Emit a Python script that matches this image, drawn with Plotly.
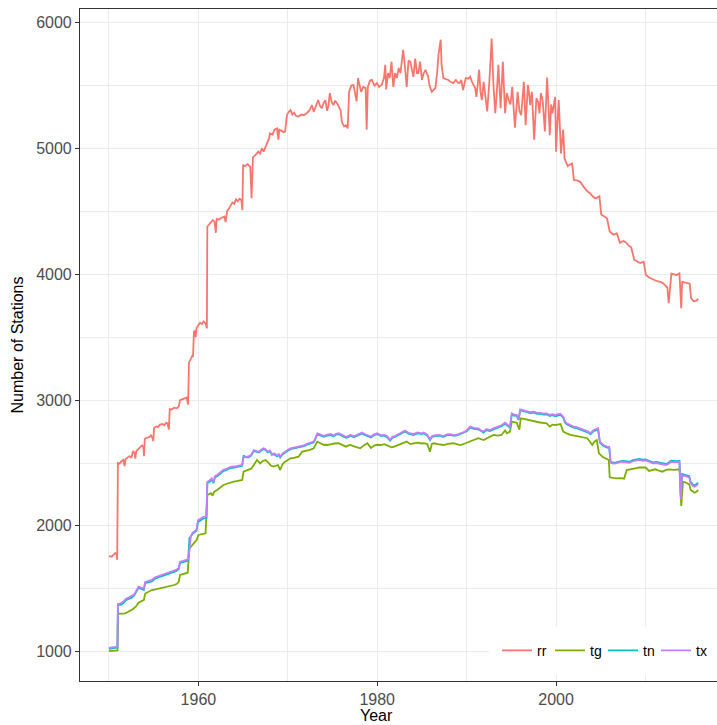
import plotly.graph_objects as go

# ---------------- data ----------------
rr_year = [1950.0, 1950.3, 1950.5, 1950.7, 1950.85, 1950.92, 1951.0, 1951.2, 1951.4, 1951.6, 1951.75, 1951.85,
           1952.1, 1952.3, 1952.5, 1952.7, 1952.85, 1952.95, 1953.05, 1953.3, 1953.5, 1953.7, 1953.85, 1953.92,
           1954.0, 1954.2, 1954.5, 1954.7, 1954.85, 1954.95, 1955.05, 1955.3, 1955.5, 1955.7, 1956.0, 1956.2,
           1956.4, 1956.55, 1956.7, 1956.8, 1957.0, 1957.3, 1957.6, 1957.8, 1957.95, 1958.2, 1958.5, 1958.7,
           1958.85, 1958.95, 1959.1, 1959.3, 1959.4, 1959.5, 1959.6, 1959.7, 1959.8, 1960.0, 1960.2, 1960.4,
           1960.6, 1960.8, 1960.95, 1961.0, 1961.2, 1961.4, 1961.6, 1961.8, 1961.95, 1962.05, 1962.3, 1962.6,
           1962.9, 1963.05, 1963.2, 1963.4, 1963.6, 1963.8, 1964.0, 1964.2, 1964.4, 1964.6, 1964.8, 1964.92,
           1965.0, 1965.2, 1965.5, 1965.8, 1965.95, 1966.1, 1966.4, 1966.7, 1966.9, 1967.1, 1967.3, 1967.5,
           1967.75, 1967.9, 1968.0, 1968.3, 1968.5, 1968.8, 1968.95, 1969.05, 1969.3, 1969.55, 1969.7, 1969.9,
           1970.1, 1970.3, 1970.5, 1970.7, 1970.9, 1971.2, 1971.5, 1971.8, 1972.1, 1972.4, 1972.7, 1972.9,
           1973.1, 1973.4, 1973.6, 1973.8, 1974.0, 1974.2, 1974.4, 1974.55, 1974.7, 1974.9, 1975.1, 1975.3,
           1975.5, 1975.7, 1975.9, 1976.05, 1976.3, 1976.5, 1976.7, 1976.85, 1977.1, 1977.35, 1977.5, 1977.7,
           1977.85, 1978.0, 1978.2, 1978.45, 1978.7, 1978.82, 1978.95, 1979.2, 1979.4, 1979.7, 1979.97, 1980.2,
           1980.5, 1980.75, 1980.9, 1981.0, 1981.2, 1981.4, 1981.6, 1981.8, 1982.0, 1982.2, 1982.4, 1982.6,
           1982.9, 1983.1, 1983.3, 1983.5, 1983.7, 1984.05, 1984.25, 1984.45, 1984.6, 1984.8, 1985.0, 1985.2,
           1985.4, 1985.7, 1985.85, 1986.1, 1986.3, 1986.5, 1986.7, 1986.85, 1987.1, 1987.2, 1987.4, 1987.7,
           1987.95, 1988.2, 1988.5, 1988.8, 1989.0, 1989.2, 1989.4, 1989.6, 1989.9, 1990.2, 1990.4, 1990.6,
           1990.75, 1990.95, 1991.1, 1991.4, 1991.55, 1991.7, 1991.9, 1992.1, 1992.3, 1992.55, 1992.8, 1993.0,
           1993.2, 1993.35, 1993.55, 1993.8, 1994.05, 1994.3, 1994.5, 1994.7, 1994.9, 1995.1, 1995.25, 1995.4,
           1995.7, 1995.9, 1996.1, 1996.25, 1996.4, 1996.6, 1996.85, 1997.0, 1997.1, 1997.3, 1997.55, 1997.8,
           1998.0, 1998.15, 1998.3, 1998.5, 1998.75, 1999.0, 1999.15, 1999.3, 1999.45, 1999.6, 1999.9, 2000.0,
           2000.15, 2000.3, 2000.55, 2000.8, 2000.95, 2001.1, 2001.3, 2001.5, 2001.8, 2002.0, 2002.4, 2002.7,
           2003.0, 2003.2, 2003.5, 2003.8, 2004.1, 2004.35, 2004.6, 2004.85, 2005.05, 2005.4, 2005.7, 2006.0,
           2006.4, 2006.8, 2007.15, 2007.5, 2007.8, 2008.1, 2008.4, 2008.75, 2009.1, 2009.4, 2009.8, 2010.05,
           2010.4, 2010.9, 2011.3, 2011.7, 2012.0, 2012.3, 2012.45, 2012.6, 2012.75, 2012.9, 2013.2, 2013.5,
           2013.8, 2014.0, 2014.1, 2014.4, 2014.7, 2014.95, 2015.1, 2015.4, 2015.7, 2015.9]
rr_val = [1760, 1755, 1770, 1785, 1775, 1730, 2500, 2495, 2515, 2525, 2475, 2530,
          2545, 2555, 2540, 2595, 2580, 2535, 2595, 2610, 2625, 2640, 2625, 2555,
          2690, 2700, 2705, 2720, 2700, 2675, 2780, 2790, 2785, 2805, 2810, 2800,
          2820, 2815, 2765, 2930, 2925, 2940, 2935, 2950, 3000, 3005, 3015, 3020,
          2965, 3300, 3320, 3350, 3345, 3540, 3555, 3500, 3575, 3600, 3615, 3605,
          3625, 3610, 3570, 4380, 4395, 4410, 4430, 4420, 4330, 4440, 4435, 4450,
          4460, 4415, 4500, 4520, 4540, 4570, 4560, 4595, 4580, 4600, 4590, 4510,
          4870, 4860, 4875, 4855, 4605, 4930, 4950, 4975, 4960, 5000, 4975, 5010,
          5040, 5080, 5120, 5110, 5150, 5160, 5070, 5150, 5140, 5130, 5135, 5265,
          5290, 5305, 5270, 5285, 5260, 5255, 5270, 5265, 5280, 5300, 5345, 5290,
          5330, 5385, 5340, 5320, 5360, 5385, 5300, 5340, 5440, 5370, 5345, 5380,
          5360, 5330, 5305, 5210, 5175, 5185, 5160, 5450, 5500, 5505, 5440, 5375,
          5560, 5500, 5450, 5490, 5480, 5150, 5490, 5540, 5545, 5500, 5520, 5490,
          5505, 5560, 5665, 5470, 5600, 5560, 5690, 5490, 5600, 5560, 5640, 5600,
          5785, 5650, 5490, 5700, 5690, 5570, 5715, 5600, 5600, 5690, 5545, 5600,
          5625, 5570, 5500, 5450, 5470, 5480, 5600, 5745, 5865, 5665, 5560, 5555,
          5545, 5530, 5520, 5545, 5525, 5520, 5545, 5465, 5560, 5555, 5570, 5530,
          5505, 5480, 5410, 5625, 5450, 5385, 5530, 5420, 5295, 5545, 5875, 5505,
          5280, 5420, 5665, 5320, 5690, 5280, 5440, 5385, 5350, 5490, 5300, 5165,
          5450, 5300, 5265, 5420, 5530, 5185, 5505, 5430, 5345, 5450, 5070, 5400,
          5370, 5280, 5440, 5385, 5135, 5565, 5300, 5105, 5350, 5280, 5410, 4975,
          5200, 5385, 4960, 5150, 4920, 4895, 4860, 4870, 4880, 4750, 4745, 4735,
          4700, 4685, 4660, 4645, 4620, 4605, 4610, 4620, 4475, 4460, 4445, 4340,
          4315, 4325, 4250, 4265, 4255, 4230, 4215, 4115, 4100, 4090, 4100, 3995,
          3975, 3955, 3945, 3940, 3928, 3905, 3895, 3770, 3905, 4005, 4000, 3995,
          4008, 3730, 3940, 3935, 3928, 3925, 3810, 3785, 3790, 3805]

tg_year = [1950.0, 1950.5, 1950.95, 1951.0, 1951.4, 1951.8, 1952.1, 1952.4, 1952.7, 1953.0, 1953.3, 1953.6,
           1953.9, 1954.05, 1954.4, 1954.8, 1955.2, 1955.75, 1956.2, 1956.7, 1957.0, 1957.3, 1957.6, 1957.8,
           1957.95, 1958.4, 1958.8, 1959.0, 1959.3, 1959.5, 1959.8, 1960.0, 1960.4, 1960.8, 1961.0, 1961.2,
           1961.4, 1961.6, 1961.75, 1962.1, 1962.4, 1962.8, 1963.2, 1963.6, 1963.95, 1964.3, 1964.6, 1964.9,
           1965.05, 1965.3, 1965.6, 1965.9, 1966.2, 1966.55, 1966.75, 1966.9, 1967.2, 1967.5, 1967.8, 1968.1,
           1968.4, 1968.7, 1968.9, 1969.15, 1969.4, 1969.7, 1970.0, 1970.3, 1970.7, 1971.2, 1971.6, 1972.0,
           1972.5, 1972.9, 1973.1, 1973.3, 1973.7, 1974.0, 1974.4, 1974.8, 1975.2, 1975.7, 1976.1, 1976.5,
           1976.8, 1977.0, 1977.5, 1978.1, 1978.5, 1978.9, 1979.3, 1979.7, 1980.0, 1980.4, 1980.8, 1981.2,
           1981.6, 1981.9, 1982.4, 1982.9, 1983.3, 1983.7, 1984.05, 1984.5, 1985.0, 1985.2, 1985.6, 1985.9,
           1986.1, 1986.3, 1986.8, 1987.4, 1987.9, 1988.5, 1989.0, 1989.3, 1989.8, 1990.4, 1990.9, 1991.3,
           1991.9, 1992.4, 1993.0, 1993.5, 1993.9, 1994.3, 1994.5, 1994.85, 1995.05, 1995.3, 1995.6, 1995.9,
           1996.05, 1996.4, 1996.9, 1997.5, 1998.2, 1998.95, 1999.3, 1999.6, 1999.9, 2000.5, 2000.8, 2001.2,
           2001.6, 2002.2, 2002.7, 2003.1, 2003.5, 2004.05, 2004.3, 2004.55, 2004.8, 2005.2, 2005.5, 2005.9,
           2006.0, 2006.3, 2006.7, 2007.2, 2007.6, 2007.9, 2008.3, 2008.6, 2009.0, 2009.3, 2009.7, 2010.0,
           2010.4, 2010.8, 2011.1, 2011.5, 2011.9, 2012.3, 2012.7, 2013.2, 2013.8, 2014.0, 2014.2, 2014.5,
           2014.7, 2014.9, 2015.05, 2015.3, 2015.5, 2015.7, 2015.9]
tg_val = [1005, 1008, 1010, 1300, 1302, 1305, 1315, 1326, 1340, 1358, 1390, 1400,
          1410, 1462, 1478, 1490, 1495, 1503, 1510, 1517, 1522, 1530, 1540, 1556,
          1610, 1620, 1628, 1822, 1845, 1862, 1888, 1928, 1935, 1941, 2246, 2252,
          2260, 2240, 2270, 2286, 2300, 2325, 2335, 2345, 2351, 2356, 2360, 2365,
          2431, 2438, 2444, 2455, 2484, 2524, 2510, 2497, 2515, 2524, 2505, 2480,
          2471, 2478, 2484, 2444, 2490, 2511, 2525, 2537, 2540, 2550, 2590, 2595,
          2605, 2617, 2640, 2670, 2655, 2645, 2643, 2650, 2655, 2657, 2640, 2630,
          2640, 2643, 2630, 2617, 2640, 2657, 2620, 2640, 2645, 2643, 2650, 2635,
          2625, 2630, 2645, 2660, 2670, 2650, 2657, 2662, 2655, 2657, 2650, 2590,
          2650, 2657, 2650, 2643, 2652, 2657, 2648, 2643, 2655, 2670, 2685, 2697,
          2683, 2700, 2723, 2718, 2723, 2760, 2736, 2750, 2829, 2825, 2820, 2765,
          2855, 2850, 2842, 2830, 2822, 2815, 2790, 2805, 2802, 2810, 2750, 2735,
          2723, 2715, 2709, 2705, 2697, 2643, 2670, 2683, 2577, 2550, 2537, 2524,
          2386, 2382, 2378, 2380, 2375, 2444, 2452, 2457, 2460, 2464, 2466, 2464,
          2437, 2445, 2450, 2440, 2431, 2445, 2450, 2446, 2450, 2158, 2351, 2345,
          2339, 2330, 2285, 2270, 2264, 2272, 2285]

t_year = [1950.0, 1950.5, 1950.75, 1950.95, 1951.0, 1951.3, 1951.6, 1951.9, 1952.2, 1952.5, 1952.8, 1953.0,
          1953.3, 1953.6, 1953.9, 1954.05, 1954.4, 1954.8, 1955.1, 1955.4, 1955.75, 1956.1, 1956.4, 1956.7,
          1956.9, 1957.2, 1957.5, 1957.8, 1957.95, 1958.3, 1958.6, 1958.85, 1959.0, 1959.15, 1959.35, 1959.6,
          1959.8, 1959.95, 1960.3, 1960.6, 1960.9, 1961.0, 1961.3, 1961.5, 1961.7, 1961.85, 1962.1, 1962.4,
          1962.8, 1963.2, 1963.6, 1964.0, 1964.3, 1964.6, 1964.9, 1965.05, 1965.3, 1965.6, 1965.9, 1966.2,
          1966.5, 1966.8, 1967.0, 1967.3, 1967.5, 1967.75, 1968.0, 1968.2, 1968.5, 1968.8, 1969.0, 1969.15,
          1969.4, 1969.7, 1970.0, 1970.3, 1970.7, 1971.0, 1971.4, 1971.8, 1972.2, 1972.6, 1972.9, 1973.1,
          1973.3, 1973.7, 1974.0, 1974.4, 1974.8, 1975.1, 1975.4, 1975.7, 1976.1, 1976.5, 1976.8, 1977.0,
          1977.4, 1977.8, 1978.0, 1978.3, 1978.6, 1979.0, 1979.3, 1979.6, 1980.0, 1980.4, 1980.8, 1981.1,
          1981.45, 1981.7, 1982.0, 1982.4, 1982.8, 1983.1, 1983.5, 1984.05, 1984.5, 1985.0, 1985.2, 1985.6,
          1985.9, 1986.1, 1986.5, 1987.0, 1987.4, 1987.8, 1988.15, 1988.6, 1989.0, 1989.3, 1989.7, 1990.0,
          1990.4, 1990.8, 1991.3, 1991.6, 1991.9, 1992.2, 1992.6, 1993.0, 1993.55, 1993.9, 1994.3, 1994.6,
          1994.85, 1995.05, 1995.3, 1995.6, 1995.8, 1996.0, 1996.3, 1996.7, 1997.1, 1997.5, 1997.9, 1998.2,
          1998.6, 1998.95, 1999.3, 1999.6, 1999.9, 2000.2, 2000.5, 2000.8, 2001.0, 2001.2, 2001.6, 2001.95,
          2002.3, 2002.7, 2003.0, 2003.3, 2003.6, 2003.85, 2004.2, 2004.5, 2004.7, 2004.9, 2005.1, 2005.3,
          2005.7, 2005.95, 2006.1, 2006.4, 2006.7, 2007.0, 2007.4, 2007.8, 2008.2, 2008.6, 2009.0, 2009.3,
          2009.7, 2010.0, 2010.4, 2010.8, 2011.2, 2011.5, 2011.9, 2012.3, 2012.6, 2012.85, 2013.2, 2013.5,
          2013.8, 2013.95, 2014.1, 2014.4, 2014.7, 2014.9, 2015.05, 2015.3, 2015.5, 2015.7, 2015.9]
tn_val = [1022, 1028, 1032, 1034, 1370, 1372, 1385, 1410, 1420, 1428, 1445, 1465,
          1505, 1500, 1490, 1545, 1552, 1558, 1578, 1588, 1596, 1604, 1612, 1620,
          1628, 1634, 1640, 1655, 1705, 1712, 1720, 1725, 1905, 1915, 1938, 1952,
          1962, 2030, 2045, 2060, 2062, 2340, 2352, 2366, 2340, 2385, 2395, 2410,
          2436, 2446, 2460, 2463, 2469, 2472, 2478, 2560, 2545, 2545, 2558, 2596,
          2588, 2584, 2598, 2612, 2604, 2584, 2594, 2566, 2568, 2553, 2563, 2543,
          2568, 2585, 2598, 2610, 2615, 2623, 2623, 2633, 2648, 2655, 2663, 2693,
          2728, 2718, 2708, 2718, 2722, 2711, 2725, 2729, 2715, 2700, 2708, 2717,
          2705, 2721, 2728, 2735, 2723, 2713, 2703, 2719, 2729, 2715, 2717, 2705,
          2678, 2701, 2707, 2723, 2738, 2751, 2733, 2723, 2735, 2729, 2735, 2718,
          2683, 2705, 2715, 2717, 2707, 2721, 2723, 2715, 2721, 2729, 2738, 2752,
          2782, 2772, 2768, 2752, 2742, 2762, 2754, 2767, 2782, 2792, 2812, 2792,
          2782, 2886, 2877, 2874, 2842, 2918, 2914, 2907, 2897, 2900, 2890, 2892,
          2885, 2887, 2874, 2880, 2872, 2880, 2882, 2860, 2822, 2807, 2792, 2782,
          2777, 2768, 2760, 2754, 2742, 2728, 2754, 2762, 2768, 2662, 2647, 2635,
          2622, 2620, 2508, 2502, 2504, 2512, 2517, 2514, 2510, 2522, 2528, 2532,
          2526, 2528, 2518, 2505, 2508, 2505, 2500, 2492, 2503, 2518, 2516, 2514,
          2518, 2245, 2412, 2406, 2400, 2394, 2350, 2328, 2322, 2330, 2343]
tx_val = [1030, 1035, 1040, 1040, 1380, 1385, 1397, 1420, 1430, 1440, 1455, 1477,
          1517, 1510, 1500, 1555, 1565, 1570, 1590, 1598, 1608, 1615, 1625, 1630,
          1640, 1645, 1650, 1665, 1715, 1722, 1730, 1735, 1810, 1912, 1945, 1960,
          1970, 2045, 2060, 2073, 2075, 2350, 2365, 2378, 2350, 2395, 2405, 2420,
          2445, 2455, 2470, 2472, 2478, 2480, 2486, 2545, 2550, 2552, 2565, 2603,
          2595, 2590, 2605, 2617, 2610, 2590, 2600, 2572, 2575, 2560, 2570, 2550,
          2575, 2592, 2605, 2617, 2622, 2630, 2630, 2640, 2655, 2662, 2670, 2700,
          2736, 2725, 2715, 2725, 2730, 2718, 2732, 2736, 2722, 2708, 2715, 2724,
          2712, 2728, 2735, 2742, 2730, 2720, 2710, 2726, 2736, 2722, 2724, 2712,
          2685, 2708, 2714, 2730, 2745, 2758, 2740, 2730, 2742, 2736, 2742, 2725,
          2690, 2712, 2722, 2724, 2714, 2728, 2730, 2722, 2728, 2736, 2745, 2760,
          2790, 2780, 2776, 2760, 2750, 2770, 2762, 2775, 2790, 2800, 2820, 2800,
          2790, 2895, 2885, 2882, 2850, 2927, 2922, 2915, 2905, 2908, 2898, 2900,
          2893, 2895, 2882, 2888, 2880, 2888, 2890, 2868, 2830, 2815, 2800, 2790,
          2785, 2776, 2768, 2762, 2750, 2736, 2762, 2770, 2776, 2670, 2655, 2643,
          2630, 2628, 2502, 2495, 2497, 2505, 2510, 2506, 2502, 2514, 2520, 2524,
          2518, 2520, 2510, 2497, 2500, 2497, 2492, 2484, 2495, 2510, 2508, 2506,
          2510, 2206, 2404, 2398, 2391, 2385, 2340, 2318, 2312, 2320, 2333]

series_names = ["rr", "tg", "tn", "tx"]
series_colors = ["#F8766D", "#7CAE00", "#00BFC4", "#C77CFF"]
x_ticks = [1960, 1980, 2000]
y_ticks = [1000, 2000, 3000, 4000, 5000, 6000]

# ---------------- figure ----------------
fig = go.Figure()
data = [(rr_year, rr_val), (tg_year, tg_val), (t_year, tn_val), (t_year, tx_val)]
for (xs, ys), name, col in zip(data, series_names, series_colors):
    fig.add_trace(go.Scatter(x=xs, y=ys, mode="lines", name=name,
                             line=dict(color=col, width=1.8)))

FONT = "Liberation Sans, Arial, sans-serif"
axis_common = dict(
    showline=True, linecolor="#333333", linewidth=1.1,
    ticks="outside", ticklen=4, tickcolor="#333333", tickwidth=1.1,
    tickfont=dict(family=FONT, size=16, color="#4D4D4D"),
    showgrid=True, gridcolor="#EBEBEB", gridwidth=1.2,
    zeroline=False,
)

fig.update_layout(
    width=717, height=725,
    margin=dict(l=80, r=0, t=9, b=44, autoexpand=False),
    paper_bgcolor="white", plot_bgcolor="white",
    font=dict(family=FONT, color="black"),
    xaxis=dict(**axis_common, range=[1946.76, 2018.0], tickvals=x_ticks, mirror=True,
               minor=dict(tickvals=[1950, 1970, 1990, 2010], showgrid=True,
                          gridcolor="#EBEBEB", gridwidth=0.6, ticks="")),
    yaxis=dict(**axis_common, range=[767, 6109], tickvals=y_ticks,
               minor=dict(tickvals=[1500, 2500, 3500, 4500, 5500], showgrid=True,
                          gridcolor="#EBEBEB", gridwidth=0.6, ticks=""),
               title=dict(text="Number of Stations", font=dict(size=16, color="black"), standoff=8)),
    legend=dict(orientation="h", x=1, xanchor="right", y=0.045, yanchor="middle",
                bgcolor="white", bordercolor="white", borderwidth=8,
                font=dict(size=14, color="black"),
                entrywidth=8, entrywidthmode="pixels"),
    showlegend=True,
    annotations=[dict(text="Year", xref="paper", yref="paper", x=0.466, y=-0.036,
                      xanchor="center", yanchor="top", showarrow=False,
                      font=dict(family=FONT, size=16, color="black"))],
)

fig.write_html("out.html")
